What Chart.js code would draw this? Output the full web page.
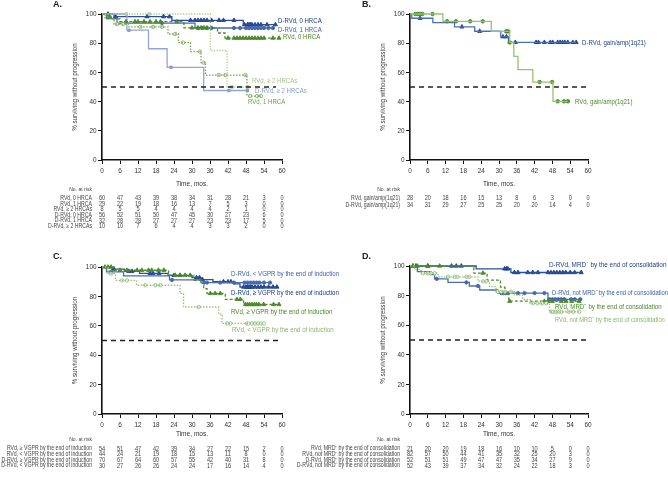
<!DOCTYPE html>
<html lang="en">
<head>
<meta charset="UTF-8" />
<title>Progression-free survival by subgroup</title>
<script src="https://cdn.jsdelivr.net/npm/chart.js"></script>
<style>
  body { margin: 0; background: #fff; }
  #wrap { position: relative; width: 668px; height: 486px; }
  #wrap canvas { position: absolute; left: 0; top: 0; }
</style>
</head>
<body>
<div id="wrap">
  <canvas id="panelA" width="668" height="486"></canvas>
  <canvas id="panelB" width="668" height="486"></canvas>
  <canvas id="panelC" width="668" height="486"></canvas>
  <canvas id="panelD" width="668" height="486"></canvas>
</div>
<script>
const FONT = "'Liberation Sans', Arial, sans-serif";
const SQUEEZE = 0.82; // fake a condensed face
const months = [0, 6, 12, 18, 24, 30, 36, 42, 48, 54, 60];
const medianLevel = 50;

// ---- panel A: cytogenetic risk (HRCA) ----
const aD0Time = [0, 4, 23.3, 47.1, 57.8];
const aD0Surv = [100, 98.2, 95.7, 92.7, 92.7];
const aD0Cens = [2, 4.5, 15, 20.5, 22.5, 29.5, 31, 32, 33, 34, 35, 36.5, 39, 40.5, 44, 47.5, 48.5, 49, 49.5, 50, 51, 52, 53, 55, 57.8];
const aD1Time = [0, 1.5, 5, 31, 57];
const aD1Surv = [100, 96.9, 93.8, 90.4, 90.4];
const aD1Cens = [20, 32, 33.5, 35, 36.5, 44, 46, 48, 49, 50, 51, 52, 53, 54, 55.5, 57];
const aD2Time = [0, 8.3, 15.5, 21.7, 33.9, 48.5];
const aD2Surv = [100, 88.9, 76.2, 63.5, 47.6, 47.6];
const aD2Cens = [9, 23, 42.3, 48.5];
const aR0Time = [0, 1.5, 3, 6, 27.3, 38.5, 41, 59];
const aR0Surv = [100, 98.3, 96.6, 94.8, 90.5, 87, 83.5, 83.5];
const aR0Cens = [2.5, 8, 11, 12, 14, 16, 18, 19.5, 25, 30, 32, 33, 34, 35, 42, 44, 45, 46, 47, 48, 49, 50, 51, 52, 53, 54, 57, 59];
const aR1Time = [0, 1, 4, 9, 22, 25.5, 29.5, 33, 34.5, 48.3, 53];
const aR1Surv = [100, 96.6, 93.1, 91.2, 86.3, 80.4, 74.2, 66.7, 58.2, 43.8, 43.8];
const aR1Cens = [5, 7, 12.8, 17, 20, 24.4, 27, 32.6, 33.9, 38.9, 41.1, 47.8, 49.4, 51.7, 53];
const aR2Time = [0, 36.1, 41.7, 49];
const aR2Surv = [100, 75, 50, 50];
const aR2Cens = [8.1, 15.8, 43.3, 48.5];
const aRiskLabels = ['RVd, 0 HRCA', 'RVd, 1 HRCA', 'RVd, \u2265 2 HRCAs', 'D-RVd, 0 HRCA', 'D-RVd, 1 HRCA', 'D-RVd, \u2265 2 HRCAs'];
const aRisk = [
  [60, 47, 43, 39, 38, 34, 31, 28, 21, 3, 0],
  [29, 22, 19, 18, 16, 13, 7, 5, 3, 0, 0],
  [8, 5, 5, 4, 4, 4, 4, 2, 1, 0, 0],
  [56, 52, 51, 50, 47, 45, 30, 27, 23, 6, 0],
  [32, 28, 28, 27, 27, 27, 23, 23, 17, 5, 0],
  [10, 10, 7, 6, 4, 4, 3, 3, 2, 0, 0]
];

// ---- panel B: gain/amp(1q21) ----
const bRTime = [0, 11.1, 27.4, 33.6, 35, 36.4, 41.4, 48.2, 53.2];
const bRSurv = [100, 95, 88.1, 80.5, 71, 61.9, 53.4, 40.2, 40.2];
const bRCens = [1.8, 2.6, 3.4, 4.2, 7.6, 12.5, 15.5, 20.3, 24.5, 32.4, 33.1, 33.6, 43.7, 47.9, 49.8, 51.9, 53.2];
const bDTime = [0, 0.6, 7.7, 15, 21.8, 30.6, 33.2, 56];
const bDSurv = [100, 97.1, 94.1, 91.2, 88.2, 84.4, 80.6, 80.6];
const bDCens = [3.4, 17.5, 23.5, 31.3, 32.5, 35.5, 42.5, 43.3, 45.3, 47.3, 48.1, 49.8, 50.6, 51.4, 52.2, 53.2, 54.9, 56];
const bRiskLabels = ['RVd, gain/amp(1q21)', 'D-RVd, gain/amp(1q21)'];
const bRisk = [
  [28, 20, 18, 16, 15, 13, 8, 6, 3, 0, 0],
  [34, 31, 29, 27, 25, 25, 20, 20, 14, 4, 0]
];

// ---- panel C: response by end of induction ----
const cRgeTime = [0, 4, 22.2, 30.6, 32.8, 33.9, 35, 41.1, 47.2, 59];
const cRgeSurv = [100, 97.8, 94.4, 91, 89.2, 85.3, 82, 78, 74.5, 74.5];
const cRgeCens = [1, 2, 3, 6, 8.3, 11.7, 13.3, 15.5, 16.6, 18.8, 20.6, 24.4, 26, 27.7, 29.4, 36.1, 37.7, 39.4, 45, 46.1, 47.8, 48.5, 49.2, 50, 50.8, 51.5, 52.3, 53.9, 57.2, 59];
const cRltTime = [0, 2, 4.5, 11.5, 26, 27.2, 38.9, 40, 54];
const cRltSurv = [100, 95.5, 90.9, 87.6, 82, 72.8, 68, 61.6, 61.6];
const cRltCens = [3, 6.7, 8.3, 14.4, 17.8, 19.4, 32.2, 41.7, 42.8, 48.3, 48.8, 50, 51, 52, 53, 54];
const cDgeTime = [0, 3.3, 7.5, 12.5, 22, 30, 33, 37, 44, 46, 58.3];
const cDgeSurv = [100, 98.6, 97.1, 95.7, 94.3, 92.8, 91.4, 90, 88.5, 86.4, 86.4];
const cDgeCens = [3.9, 8.9, 10, 16, 17, 19, 24, 26, 31.5, 32.5, 33.5, 40.5, 42, 43, 47.2, 48, 48.5, 49, 49.5, 50, 51, 52, 53, 54, 55.5, 57, 58.3];
const cDltTime = [0, 1.5, 7.2, 22.5, 33, 56];
const cDltSurv = [100, 96.7, 94, 91.2, 89.4, 89.4];
const cDltCens = [3, 23.3, 34, 35, 39.4, 44, 47.5, 48.5, 49.5, 50.5, 51.5, 52.5, 54, 56];
const cRiskLabels = ['RVd, \u2265 VGPR by the end of induction', 'RVd, < VGPR by the end of induction', 'D-RVd, \u2265 VGPR by the end of induction', 'D-RVd, < VGPR by the end of induction'];
const cRisk = [
  [54, 51, 47, 42, 39, 34, 27, 22, 15, 2, 0],
  [44, 24, 21, 19, 18, 15, 13, 11, 8, 0, 0],
  [70, 67, 64, 60, 57, 55, 42, 40, 31, 8, 0],
  [30, 27, 26, 26, 24, 24, 17, 16, 14, 4, 0]
];

// ---- panel D: MRD status by end of consolidation ----
const dDnegTime = [0, 22.3, 34, 58.2];
const dDnegSurv = [100, 98.1, 95.6, 95.6];
const dDnegCens = [1, 2, 6, 14, 15.6, 17.3, 31.9, 32.5, 33, 35.2, 36.4, 39.7, 41.4, 43.1, 46.5, 47.5, 48.5, 49.5, 50.5, 51.5, 52.5, 54, 55.5, 57.7];
const dDnotTime = [0, 2.5, 7, 8.3, 12.8, 20, 23.5, 29.6, 46.5, 57.4];
const dDnotSurv = [100, 96.2, 94.2, 91.3, 88.9, 86.5, 83.8, 81.7, 77.5, 77.5];
const dDnotCens = [9, 19, 22.9, 30.8, 31.5, 32.2, 33, 36.4, 38.6, 42, 45.3, 47, 48, 49, 50, 51, 52, 54.3, 55.5, 57.4];
const dRnegTime = [0, 21.5, 26, 30.5, 32, 33.3, 57];
const dRnegSurv = [100, 95.2, 90.5, 85.7, 81, 76.2, 76.2];
const dRnegCens = [1, 2.5, 6, 10, 24.6, 33.6, 45.3, 46.5, 48, 51, 52.6, 54.5, 57];
const dRnotTime = [0, 1.5, 3.8, 9.4, 22.9, 26.8, 29, 35.2, 38, 40.5, 47, 57];
const dRnotSurv = [100, 97.6, 95.1, 92.7, 89.6, 86, 82.6, 80.4, 77.5, 74.8, 69.1, 69.1];
const dRnotCens = [4.4, 6, 7, 8.3, 12.8, 15, 16, 19, 20, 24.6, 25.7, 29.6, 30.8, 32, 34, 41.4, 43, 44.5, 45.9, 47.6, 48.3, 49, 49.7, 50.4, 51.1, 53.5, 55, 57];
const dRiskLabels = ['RVd, MRD\u207B by the end of consolidation', 'RVd, not MRD\u207B by the end of consolidation', 'D-RVd, MRD\u207B by the end of consolidation', 'D-RVd, not MRD\u207B by the end of consolidation'];
const dRisk = [
  [21, 20, 20, 19, 18, 16, 10, 10, 5, 0, 0],
  [82, 57, 50, 44, 41, 35, 32, 25, 20, 3, 0],
  [52, 51, 51, 49, 47, 47, 35, 34, 27, 9, 0],
  [52, 43, 39, 37, 34, 32, 24, 22, 18, 3, 0]
];

// styles
const dark = { line: '#2b4f99', mark: '#1b3d86', fill: '#1b3d86', dash: [], shape: 'triangle', r: 2.4 };
const mid = { line: '#4a6cb3', mark: '#3f61ab', fill: '#3f61ab', dash: [], shape: 'circle', r: 1.7 };
const lilac = { line: '#93a4d6', mark: '#7f92cb', fill: '#7f92cb', dash: [], shape: 'rect', r: 1.8 };
const green = { line: '#4f8c2e', mark: '#4a8729', fill: '#4a8729', dash: [3, 2], shape: 'triangle', r: 2.4 };
const sage = { line: '#76a854', mark: '#76a854', fill: '#ffffff', dash: [1.5, 1.5], shape: 'circle', r: 1.7 };
const pale = { line: '#a9c98e', mark: '#a3c487', fill: '#c9ddb6', dash: [1.2, 1.5], shape: 'rect', r: 1.8 };
const gainR = { line: '#93c46e', mark: '#4a8729', fill: '#4a8729', dash: [], shape: 'circle', r: 1.8 };
const gainD = { line: '#4d6fb6', mark: '#1b3d86', fill: '#1b3d86', dash: [], shape: 'triangle', r: 2.4 };
const paleDot = { line: '#98bf78', mark: '#8ab66a', fill: '#ffffff', dash: [1.5, 1.5], shape: 'circle', r: 1.7 };

function survAt(times, surv, t) {
  let v = surv[0];
  for (let i = 0; i < times.length; i++) if (times[i] <= t) v = surv[i];
  return v;
}

function kmDatasets(times, surv, cens, s) {
  return [
    {
      data: times.map((t, i) => ({ x: t, y: surv[i] })),
      stepped: true, borderColor: s.line, borderWidth: 1.3, borderDash: s.dash,
      pointRadius: 0, clip: false
    },
    {
      data: cens.map(t => ({ x: t, y: survAt(times, surv, t) })),
      showLine: false, pointStyle: s.shape, pointRadius: s.r,
      pointBackgroundColor: s.fill, pointBorderColor: s.mark, pointBorderWidth: 0.8, clip: false
    }
  ];
}

// narrow text: draw squeezed horizontally around the anchor
function say(ctx, str, x, y, align, size, rot) {
  ctx.save();
  ctx.translate(x, y);
  if (rot) ctx.rotate(rot);
  ctx.scale(SQUEEZE, 1);
  ctx.font = size + 'px ' + FONT;
  ctx.textAlign = align;
  ctx.fillText(str, 0, 0);
  ctx.restore();
}

function drawText(chart, p) {
  const ctx = chart.ctx, xs = chart.scales.x, ys = chart.scales.y, a = chart.chartArea;
  ctx.save();
  ctx.textBaseline = 'middle';
  ctx.fillStyle = '#222';
  ctx.font = 'bold 9px ' + FONT;
  ctx.textAlign = 'left';
  ctx.fillText(p.letter, p.letterPos[0], p.letterPos[1]);

  // tick labels from the scales
  ctx.fillStyle = '#333';
  xs.ticks.forEach(t => say(ctx, String(t.value), xs.getPixelForValue(t.value), a.bottom + 10.5, 'center', 7.8));
  ys.ticks.forEach(t => say(ctx, String(t.value), a.left - 5.5, ys.getPixelForValue(t.value), 'right', 7.8));

  say(ctx, '% surviving without progression', a.left - 27, (a.top + a.bottom) / 2, 'center', 7.6, -Math.PI / 2);
  say(ctx, 'Time, mos.', (a.left + a.right) / 2, p.titleY, 'center', 8);

  ctx.fillStyle = '#444';
  say(ctx, 'No. at risk', a.left - 10, p.riskHeadY, 'right', 6.2);
  p.riskRows.forEach((row, i) => {
    const y = p.riskY + i * p.riskStep;
    say(ctx, p.riskLabels[i], a.left - 10, y, 'right', 6.3);
    row.forEach((n, j) => say(ctx, String(n), xs.getPixelForValue(months[j]), y, 'center', 6.8));
  });

  p.labels.forEach(l => {
    ctx.fillStyle = l.color;
    say(ctx, l.text, l.x, l.y, 'left', l.size || 7.4);
  });
  ctx.restore();
}

function makePanel(id, p) {
  const a = p.area;
  const datasets = [];
  p.series.forEach(s => datasets.push(...kmDatasets(s[0], s[1], s[2], s[3])));
  datasets.unshift({
    data: [{ x: 0, y: medianLevel }, { x: p.dashEnd, y: medianLevel }],
    borderColor: '#222', borderWidth: 1.3, borderDash: [5, 4], pointRadius: 0
  });
  new Chart(document.getElementById(id), {
    type: 'line',
    data: { datasets },
    options: {
      responsive: false, animation: false, devicePixelRatio: 1, events: [],
      layout: { padding: { left: 0, top: a.top, right: 668 - a.right, bottom: 486 - a.bottom - 14 } },
      plugins: { legend: { display: false }, tooltip: { enabled: false } },
      scales: {
        x: {
          type: 'linear', min: 0, max: 60,
          afterFit: sc => { sc.height = 14; },
          afterBuildTicks: sc => { sc.ticks = months.map(v => ({ value: v })); },
          border: { color: '#111', width: 1.6 },
          grid: { drawOnChartArea: false, color: '#111', tickLength: 4, lineWidth: 1 },
          ticks: { display: false }
        },
        y: {
          type: 'linear', min: 0, max: 100,
          afterFit: sc => { sc.width = a.left; },
          ticks: { stepSize: 20, display: false },
          border: { color: '#111', width: 1.6 },
          grid: { drawOnChartArea: false, color: '#111', tickLength: 4, lineWidth: 1 }
        }
      }
    },
    plugins: [{ id: 'txt' + id, afterDraw: chart => drawText(chart, p) }]
  });
}

makePanel('panelA', {
  area: { left: 102, right: 282, top: 14, bottom: 160 },
  dashEnd: 58,
  series: [
    [aR2Time, aR2Surv, aR2Cens, pale],
    [aR1Time, aR1Surv, aR1Cens, sage],
    [aR0Time, aR0Surv, aR0Cens, green],
    [aD2Time, aD2Surv, aD2Cens, lilac],
    [aD1Time, aD1Surv, aD1Cens, mid],
    [aD0Time, aD0Surv, aD0Cens, dark]
  ],
  letter: 'A.', letterPos: [53, 5], titleY: 183.3, riskHeadY: 189,
  riskY: 198.3, riskStep: 5.6, riskRows: aRisk, riskLabels: aRiskLabels,
  labels: [
    { text: 'D-RVd, 0 HRCA', x: 278, y: 20.7, color: '#1b3d86' },
    { text: 'D-RVd, 1 HRCA', x: 278, y: 30, color: '#3f61ab' },
    { text: 'RVd, 0 HRCA', x: 283, y: 37.3, color: '#4a8729' },
    { text: 'RVd, \u2265 2 HRCAs', x: 252, y: 80.7, color: '#a3c487' },
    { text: 'D-RVd, \u2265 2 HRCAs', x: 255, y: 90.7, color: '#8b9ccf' },
    { text: 'RVd, 1 HRCA', x: 248, y: 101.7, color: '#6a9e48' }
  ]
});

makePanel('panelB', {
  area: { left: 410, right: 588, top: 14, bottom: 160 },
  dashEnd: 60,
  series: [
    [bRTime, bRSurv, bRCens, gainR],
    [bDTime, bDSurv, bDCens, gainD]
  ],
  letter: 'B.', letterPos: [362, 5], titleY: 183.3, riskHeadY: 189,
  riskY: 198.3, riskStep: 6.5, riskRows: bRisk, riskLabels: bRiskLabels,
  labels: [
    { text: 'D-RVd, gain/amp(1q21)', x: 582, y: 43.3, color: '#1b3d86' },
    { text: 'RVd, gain/amp(1q21)', x: 575, y: 101.7, color: '#4a8729' }
  ]
});

makePanel('panelC', {
  area: { left: 102, right: 282, top: 267, bottom: 414 },
  dashEnd: 60,
  series: [
    [cRltTime, cRltSurv, cRltCens, paleDot],
    [cRgeTime, cRgeSurv, cRgeCens, green],
    [cDltTime, cDltSurv, cDltCens, mid],
    [cDgeTime, cDgeSurv, cDgeCens, dark]
  ],
  letter: 'C.', letterPos: [53, 257], titleY: 433.7, riskHeadY: 439.3,
  riskY: 448.7, riskStep: 5.67, riskRows: cRisk, riskLabels: cRiskLabels,
  labels: [
    { text: 'D-RVd, < VGPR by the end of induction', x: 231, y: 274.3, color: '#3f61ab', size: 7.5 },
    { text: 'D-RVd, \u2265 VGPR by the end of induction', x: 231, y: 292.7, color: '#1b3d86', size: 7.5 },
    { text: 'RVd, \u2265 VGPR by the end of induction', x: 231, y: 311.7, color: '#4a8729', size: 7.5 },
    { text: 'RVd, < VGPR by the end of induction', x: 232, y: 330, color: '#8ab66a', size: 7.5 }
  ]
});

makePanel('panelD', {
  area: { left: 410, right: 588, top: 266, bottom: 414 },
  dashEnd: 60,
  series: [
    [dRnotTime, dRnotSurv, dRnotCens, paleDot],
    [dRnegTime, dRnegSurv, dRnegCens, green],
    [dDnotTime, dDnotSurv, dDnotCens, mid],
    [dDnegTime, dDnegSurv, dDnegCens, dark]
  ],
  letter: 'D.', letterPos: [362, 257], titleY: 433.7, riskHeadY: 439.3,
  riskY: 448.7, riskStep: 5.67, riskRows: dRisk, riskLabels: dRiskLabels,
  labels: [
    { text: 'D-RVd, MRD\u207B by the end of consolidation', x: 549, y: 265, color: '#1b3d86', size: 7.8 },
    { text: 'D-RVd, not MRD\u207B by the end of consolidation', x: 552, y: 293.3, color: '#3f61ab', size: 7.1 },
    { text: 'RVd, MRD\u207B by the end of consolidation', x: 555, y: 306.7, color: '#4a8729', size: 7.5 },
    { text: 'RVd, not MRD\u207B by the end of consolidation', x: 555, y: 320, color: '#8ab66a', size: 7.1 }
  ]
});
</script>
</body>
</html>
